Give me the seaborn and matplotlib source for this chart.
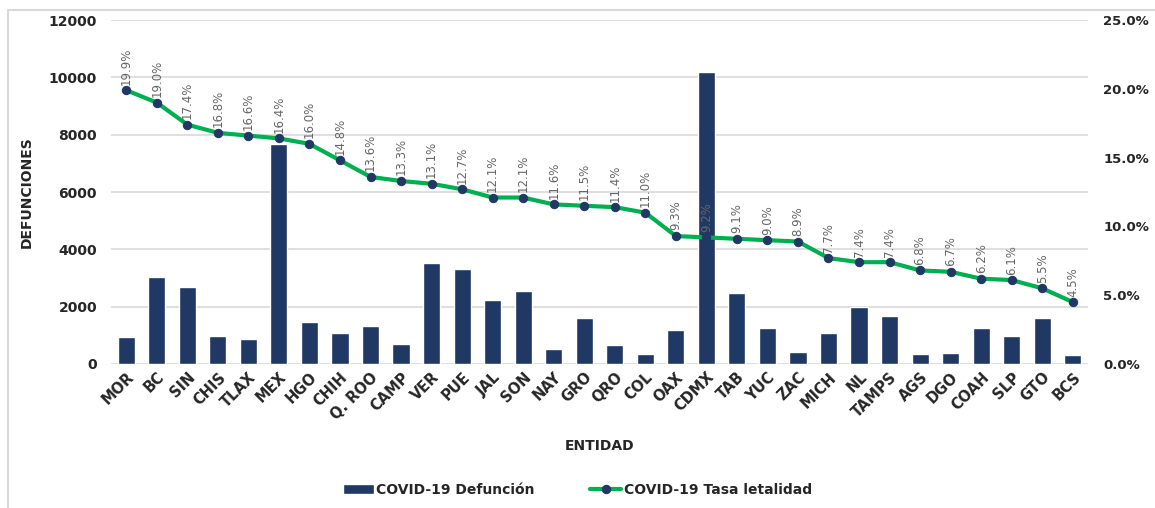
import numpy as np
import pandas as pd
import matplotlib.pyplot as plt
import seaborn as sns
from matplotlib.lines import Line2D
from matplotlib.ticker import FuncFormatter

# Data
entidades = ['MOR', 'BC', 'SIN', 'CHIS', 'TLAX', 'MEX', 'HGO', 'CHIH', 'Q. ROO', 'CAMP',
             'VER', 'PUE', 'JAL', 'SON', 'NAY', 'GRO', 'QRO', 'COL', 'OAX', 'CDMX',
             'TAB', 'YUC', 'ZAC', 'MICH', 'NL', 'TAMPS', 'AGS', 'DGO', 'COAH', 'SLP',
             'GTO', 'BCS']
defunciones = [930, 3050, 2670, 980, 860, 7660, 1480, 1070, 1320, 710,
               3520, 3330, 2240, 2530, 535, 1600, 675, 360, 1200, 10200,
               2480, 1250, 410, 1075, 1990, 1690, 360, 385, 1250, 980,
               1600, 315]
tasa = [19.9, 19.0, 17.4, 16.8, 16.6, 16.4, 16.0, 14.8, 13.6, 13.3,
        13.1, 12.7, 12.1, 12.1, 11.6, 11.5, 11.4, 11.0, 9.3, 9.2,
        9.1, 9.0, 8.9, 7.7, 7.4, 7.4, 6.8, 6.7, 6.2, 6.1,
        5.5, 4.5]

df = pd.DataFrame({'entidad': entidades, 'defunciones': defunciones, 'tasa': tasa})

navy = '#203864'
green = '#00B050'

sns.set_style('white')
plt.rcParams['font.family'] = ['DejaVu Sans']

fig = plt.figure(figsize=(11.55, 5.08), dpi=100)
fig.patch.set_facecolor('white')
# light frame (top and left edges visible in the reference)
fig.lines.append(Line2D([0.0065, 0.0065], [0.0, 0.98], transform=fig.transFigure,
                        color='#D9D9D9', linewidth=1.5))
fig.lines.append(Line2D([0.0065, 1.0], [0.98, 0.98], transform=fig.transFigure,
                        color='#D9D9D9', linewidth=1.5))

ax = fig.add_axes([0.0961, 0.2835, 0.8459, 0.677])
sns.barplot(data=df, x='entidad', y='defunciones', color=navy, width=0.56,
            saturation=1, ax=ax, label='COVID-19 Defunción', zorder=2)
ax.set_ylim(0, 12000)
ax.set_yticks(np.arange(0, 12001, 2000))
ax.grid(axis='y', color='#D9D9D9', linewidth=1.2, zorder=0)
ax.set_axisbelow(True)
for s in ax.spines.values():
    s.set_visible(False)
ax.tick_params(axis='both', length=0)
ax.tick_params(axis='y', labelsize=10, pad=10)
for lbl in ax.get_yticklabels():
    lbl.set_fontweight('bold')
ax.set_xticks(range(len(entidades)))
ax.set_xticklabels(entidades, rotation=45, ha='right', rotation_mode='anchor',
                   fontsize=10.5, fontweight='bold')
ax.tick_params(axis='x', pad=4)
ax.set_ylabel('DEFUNCIONES', fontsize=10, fontweight='bold', labelpad=11)
ax.set_xlabel('ENTIDAD', fontsize=10, fontweight='bold', labelpad=12)
ax.set_xlim(-0.5, len(entidades) - 0.5)

ax2 = ax.twinx()
sns.lineplot(data=df, x='entidad', y='tasa', sort=False, color=green, linewidth=3,
             marker='o', markersize=6, markerfacecolor=navy, markeredgecolor=navy,
             ax=ax2, label='COVID-19 Tasa letalidad', legend=False, zorder=3)
ax2.set_ylim(0, 25)
ax2.set_yticks(np.arange(0, 25.1, 5))
ax2.yaxis.set_major_formatter(FuncFormatter(lambda v, p: f'{v:.1f}%'))
for s in ax2.spines.values():
    s.set_visible(False)
ax2.tick_params(axis='y', length=0, labelsize=9.5, pad=11)
for lbl in ax2.get_yticklabels():
    lbl.set_fontweight('bold')
ax2.set_ylabel('')
ax2.set_xlim(-0.5, len(entidades) - 0.5)

for i, t in enumerate(tasa):
    ax2.annotate(f'{t:.1f}%', (i, t), xytext=(0, 4), textcoords='offset points',
                 rotation=90, ha='center', va='bottom', fontsize=8.5, color='#666666')

h1, l1 = ax.get_legend_handles_labels()
h2, l2 = ax2.get_legend_handles_labels()
if ax.get_legend():
    ax.get_legend().remove()
fig.legend(h1 + h2, l1 + l2, loc='center', bbox_to_anchor=(0.5, 0.035), ncol=2,
           frameon=False, prop={'weight': 'bold', 'size': 10}, columnspacing=4,
           handlelength=2.2, handletextpad=0.2)

plt.savefig('out.png', dpi=100)
plt.close()
